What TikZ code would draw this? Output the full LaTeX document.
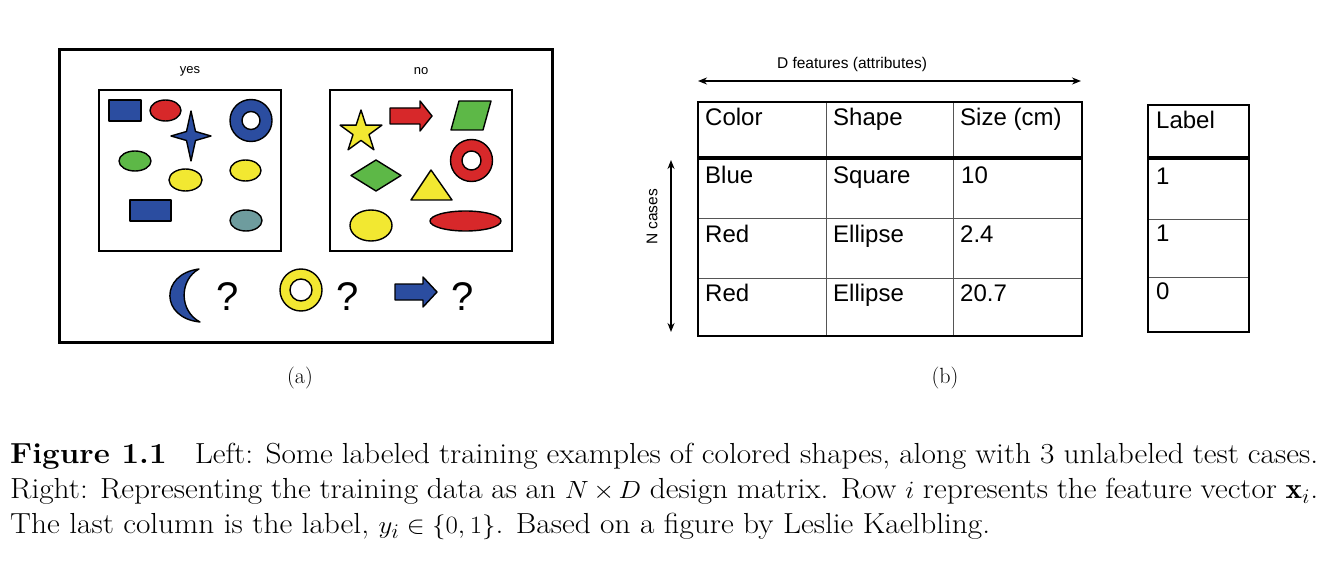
\documentclass[tikz,border=0pt]{standalone}
\usepackage{fontspec}
\newfontfamily\arial{Liberation Sans}
\usetikzlibrary{arrows.meta}
\definecolor{sblue}{HTML}{2B4DA0}
\definecolor{sred}{HTML}{D7282A}
\definecolor{sgreen}{HTML}{5DB847}
\definecolor{syellow}{HTML}{F2E831}
\definecolor{steal}{HTML}{6E9C9E}
\definecolor{gridgray}{HTML}{555555}
\begin{document}
\begin{tikzpicture}[x=1pt,y=-1pt,
  shp/.style={draw=black, line width=1.4pt, line join=round},
  panel/.style={draw=black, line width=2pt},
  lbl/.style={font=\arial\fontsize{13}{15}\selectfont, inner sep=0pt},
  axlbl/.style={font=\arial\fontsize{15.5}{18}\selectfont, inner sep=0pt},
  cell/.style={anchor=base west, inner sep=0pt, font=\arial\fontsize{24}{28}\selectfont},
  qm/.style={font=\arial\fontsize{40}{48}\selectfont, inner sep=0pt},
  sub/.style={font=\fontsize{22}{26}\selectfont, inner sep=0pt},
  dimarrow/.style={line width=2pt, {Stealth[length=9pt,width=7pt]}-{Stealth[length=9pt,width=7pt]}},
  thin/.style={draw=gridgray, line width=0.9pt},
  outer/.style={draw=black, line width=2.5pt},
  hdr/.style={draw=black, line width=3.5pt}
]
\useasboundingbox (0,0) rectangle (1332,561);

% ---------- left panel ----------
\draw[line width=3pt] (59,50) rectangle (552,342);
\node[lbl] (yes) at (190,71) {yes};
\node[lbl] (no) at (421,71) {no};
\draw[panel] (99,90) rectangle (281,251);
\draw[panel] (330,90) rectangle (512,251);

% yes shapes
\filldraw[shp, fill=sblue] (109,100) rectangle (141,121);
\filldraw[shp, fill=sred] (165.5,110.5) ellipse [x radius=15.5, y radius=10.5];
\filldraw[shp, fill=sblue] (191,111) -- (195.5,131.5) -- (211,136) -- (195.5,140.5) -- (191,161) -- (186.5,140.5) -- (171,136) -- (186.5,131.5) -- cycle;
\filldraw[shp, fill=sblue, even odd rule] (251,120.5) circle [radius=21] (251,120.5) circle [radius=9];
\filldraw[shp, fill=sgreen] (135,161) ellipse [x radius=16, y radius=10];
\filldraw[shp, fill=syellow] (185.5,180) ellipse [x radius=16.5, y radius=11];
\filldraw[shp, fill=syellow] (245.5,170.5) ellipse [x radius=15.5, y radius=10.5];
\filldraw[shp, fill=sblue] (130,200) rectangle (171,221);
\filldraw[shp, fill=steal] (246,220.5) ellipse [x radius=16, y radius=10.5];

% no shapes
\filldraw[shp, fill=syellow] (361,110) -- (365.9,125.2) -- (381.9,125.2) -- (369,134.6) -- (373.9,149.8) -- (361,140.4) -- (348.1,149.8) -- (353,134.6) -- (340.1,125.2) -- (356.1,125.2) -- cycle;
\filldraw[shp, fill=sred] (390,108) -- (420,108) -- (420,101) -- (432,116) -- (420,131) -- (420,124) -- (390,124) -- cycle;
\filldraw[shp, fill=sgreen] (459,101) -- (491,101) -- (483,130) -- (451,130) -- cycle;
\filldraw[shp, fill=sred, even odd rule] (471.5,160.5) circle [radius=21] (471.5,160.5) circle [radius=9.5];
\filldraw[shp, fill=sgreen] (351,175.5) -- (376,160) -- (401,175.5) -- (376,191) -- cycle;
\filldraw[shp, fill=syellow] (431,170) -- (452,200) -- (411,200) -- cycle;
\filldraw[shp, fill=syellow] (371,225.5) ellipse [x radius=21, y radius=15.5];
\filldraw[shp, fill=sred] (465.5,221) ellipse [x radius=35.5, y radius=10];

% test cases
\filldraw[shp, fill=sblue] (199,269) .. controls (160,274) and (160,318) .. (200,322) .. controls (179,311) and (179,280) .. (199,269) -- cycle;
\node[qm] (q1) at (228,297) {?};
\filldraw[shp, fill=syellow, even odd rule] (301,290) circle [radius=21] (301,290) circle [radius=11];
\node[qm] (q2) at (348,297) {?};
\filldraw[shp, fill=sblue] (395,284) -- (423,284) -- (423,277) -- (437,292) -- (423,307) -- (423,300) -- (395,300) -- cycle;
\node[qm] (q3) at (463,297) {?};

\node[sub] (suba) at (300,378) {(a)};
\node[sub] (subb) at (945,378) {(b)};

% ---------- right panel ----------
\node[axlbl] (dfeat) at (852,64) {D features (attributes)};
\coordinate (hl) at (698,81);
\coordinate (hr) at (1081,81);
\draw[dimarrow] (hl) -- (hr);
\coordinate (vt) at (671,160);
\coordinate (vb) at (671,332);
\draw[dimarrow] (vt) -- (vb);
\node[axlbl, rotate=90] (ncases) at (652,217) {N cases};

% main table
\draw[thin] (826,102) -- (826,336);
\draw[thin] (953,102) -- (953,336);
\draw[thin] (698,218) -- (1082,218);
\draw[thin] (698,278) -- (1082,278);
\draw[hdr] (698,158) -- (1082,158);
\draw[outer] (698,102) rectangle (1082,336);

\node[cell] (c11) at (705,126) {Color};
\node[cell] (c12) at (833,126) {Shape};
\node[cell] (c13) at (960,126) {Size (cm)};
\node[cell] (c21) at (705,184) {Blue};
\node[cell] (c22) at (833,184) {Square};
\node[cell] (c23) at (961,184) {10};
\node[cell] (c31) at (705,243) {Red};
\node[cell] (c32) at (833,243) {Ellipse};
\node[cell] (c33) at (960,243) {2.4};
\node[cell] (c41) at (705,301) {Red};
\node[cell] (c42) at (833,301) {Ellipse};
\node[cell] (c43) at (960,301) {20.7};

% label table
\draw[thin] (1148,219) -- (1249,219);
\draw[thin] (1148,277) -- (1249,277);
\draw[hdr] (1148,158) -- (1249,158);
\draw[outer] (1148,105) rectangle (1249,332);
\node[cell] (l1) at (1156,129) {Label};
\node[cell] (l2) at (1156,185) {1};
\node[cell] (l3) at (1156,242) {1};
\node[cell] (l4) at (1156,299) {0};

% ---------- caption ----------
\node[anchor=north west, inner sep=0pt, xscale=1.08, transform shape,
      text width=1211pt, align=justify,
      font=\fontsize{29}{35}\selectfont] (cap) at (10,443)
{\mbox{\textbf{Figure 1.1}\hspace{0.9em}}Left: Some labeled training examples of colored shapes, along with 3 unlabeled test cases.\linebreak
Right: Representing the training data as an $N \times D$ design matrix. Row $i$ represents the feature vector $\mathbf{x}_i$.\linebreak
The last column is the label, $y_i \in \{0,1\}$. Based on a figure by Leslie Kaelbling.};
\end{tikzpicture}
\end{document}
